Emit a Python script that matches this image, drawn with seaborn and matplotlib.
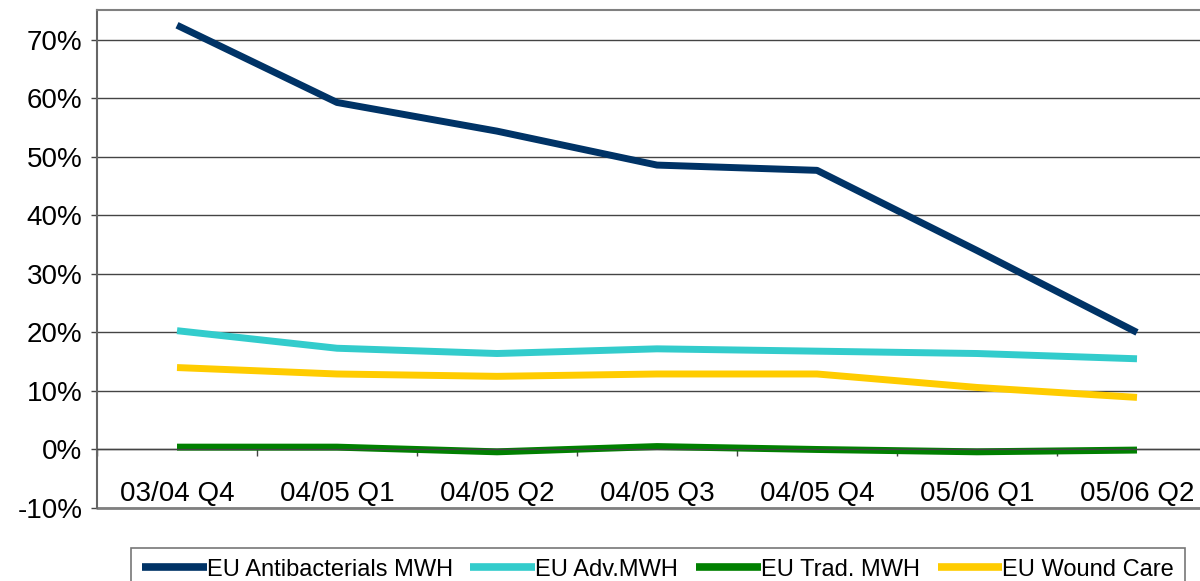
import numpy as np
import pandas as pd
import matplotlib
matplotlib.use("Agg")
import matplotlib.pyplot as plt
from matplotlib.ticker import FuncFormatter, FixedLocator
import seaborn as sns

quarters = ["03/04 Q4", "04/05 Q1", "04/05 Q2", "04/05 Q3", "04/05 Q4", "05/06 Q1", "05/06 Q2"]
antibacterials = [72.5, 59.3, 54.4, 48.6, 47.7, 34.0, 20.0]
adv_mwh = [20.3, 17.3, 16.4, 17.2, 16.8, 16.4, 15.5]
trad_mwh = [0.4, 0.4, -0.4, 0.5, 0.0, -0.4, -0.1]
wound_care = [14.0, 12.9, 12.5, 12.9, 12.9, 10.6, 8.9]

series_names = ["EU Antibacterials MWH", "EU Adv.MWH", "EU Trad. MWH", "EU Wound Care"]
colors = ["#003366", "#33CCCC", "#008000", "#FFCC00"]

df = pd.DataFrame({"quarter": quarters * 4,
                   "value": antibacterials + adv_mwh + trad_mwh + wound_care,
                   "series": np.repeat(series_names, len(quarters))})

sns.set_theme(style="white")
plt.rcParams['font.family'] = ['Liberation Sans', 'DejaVu Sans']
plt.rcParams['text.color'] = 'black'

fig = plt.figure(figsize=(12, 5.81), dpi=100)
ax = fig.add_axes([97 / 1200, 73 / 581, 1120 / 1200, 498 / 581])

sns.lineplot(data=df, x="quarter", y="value", hue="series", palette=colors,
             hue_order=series_names, linewidth=5, ax=ax, legend=True)
for ln in ax.get_lines():
    ln.set_solid_capstyle('butt')

ax.set_xlim(-0.5, 6.5)
ax.set_ylim(-10, 75.1)
ax.set_yticks(np.arange(-10, 71, 10))
ax.yaxis.set_major_formatter(FuncFormatter(lambda v, p: f"{v:.0f}%"))
ax.yaxis.grid(True, color="#444444", linewidth=1)
ax.set_axisbelow(True)

# frame: grey box, category axis sits on the 0% line
grey = "#808080"
for s in ["top", "right", "left"]:
    ax.spines[s].set_visible(True)
    ax.spines[s].set_color(grey)
    ax.spines[s].set_linewidth(1.5)
ax.spines["left"].set_color("#666666")
ax.spines["bottom"].set_position(("data", 0))
ax.spines["bottom"].set_color("#444444")
ax.spines["bottom"].set_linewidth(1)
ax.axhline(-10, color=grey, linewidth=2, clip_on=False)

ax.tick_params(axis="y", which="major", left=True, length=4.5, width=1, color="#444444",
               labelsize=20, pad=6, labelcolor="black")
ax.set_xticks(range(len(quarters)))
ax.set_xticklabels(quarters)
ax.xaxis.set_minor_locator(FixedLocator(np.arange(-0.5, 7, 1)))
ax.tick_params(axis="x", which="major", bottom=True, length=0, labelsize=20, pad=23,
               labelcolor="black")
ax.tick_params(axis="x", which="minor", bottom=True, length=5, width=1, color="#444444")

ax.set_xlabel("")
ax.set_ylabel("")

handles, labels = ax.get_legend_handles_labels()
ax.legend_.remove()
leg = fig.legend(handles, labels, loc="upper left", bbox_to_anchor=(131 / 1200, 33 / 581),
                 ncol=4, fontsize=17, frameon=True, fancybox=False, handlelength=2.75,
                 handletextpad=0.0, columnspacing=0.75, borderpad=0.45, borderaxespad=0)
leg.get_frame().set_edgecolor("#555555")
leg.get_frame().set_linewidth(1.2)
for t in leg.get_texts():
    t.set_color("black")
for h in leg.get_lines():
    h.set_linewidth(5.5)
    h.set_solid_capstyle('butt')

fig.savefig("out.png", dpi=100)
